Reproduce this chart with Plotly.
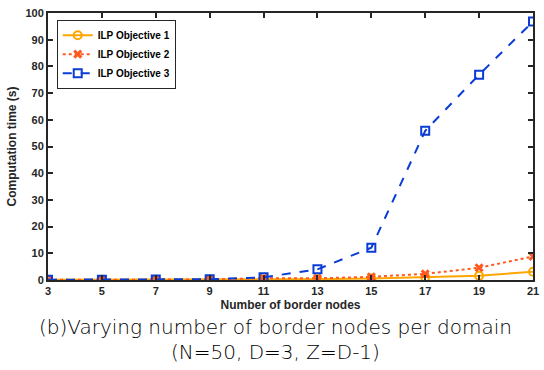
import plotly.graph_objects as go

border_nodes = [3, 5, 7, 9, 11, 13, 15, 17, 19, 21]
obj1 = [0.1, 0.1, 0.1, 0.1, 0.2, 0.3, 0.6, 1.0, 1.6, 3.1]
obj2 = [0.05, 0.1, 0.15, 0.2, 0.7, 0.6, 1.2, 2.3, 4.6, 8.8]
obj3 = [0.1, 0.1, 0.2, 0.3, 1.0, 4.0, 12.1, 55.9, 76.9, 96.8]
x_ticks = [3, 5, 7, 9, 11, 13, 15, 17, 19, 21]
y_ticks = [0, 10, 20, 30, 40, 50, 60, 70, 80, 90, 100]

fig = go.Figure()
fig.add_trace(go.Scatter(x=border_nodes, y=obj1, name="ILP Objective 1", mode="lines+markers",
                         line=dict(color="#FFA500", width=2, dash="solid"),
                         marker=dict(symbol="circle-open", size=8, color="#FFA500", line=dict(width=2))))
fig.add_trace(go.Scatter(x=border_nodes, y=obj2, name="ILP Objective 2", mode="lines+markers",
                         line=dict(color="#FF5A1F", width=2, dash="dot"),
                         marker=dict(symbol="x-thin-open", size=7, color="#FF5A1F", line=dict(width=3, color="#FF5A1F"))))
fig.add_trace(go.Scatter(x=border_nodes, y=obj3, name="ILP Objective 3", mode="lines+markers",
                         line=dict(color="#0A3CD6", width=2, dash="dash"),
                         marker=dict(symbol="square-open", size=8, color="#0A3CD6", line=dict(width=2))))

tick_font = dict(family="Arial, Liberation Sans", size=11, color="#262626", weight="bold")
axis_common = dict(showline=True, linecolor="#262626", linewidth=2, mirror="ticks",
                   ticks="inside", ticklen=5, tickwidth=2, tickcolor="#262626",
                   showgrid=False, zeroline=False, tickfont=tick_font)

fig.update_xaxes(range=[3, 21], tickvals=x_ticks,
                 title=dict(text="Number of border nodes", standoff=4,
                            font=dict(family="Arial, Liberation Sans", size=12, color="#262626", weight="bold")),
                 **axis_common)
fig.update_yaxes(range=[0, 100], tickvals=y_ticks,
                 title=dict(text="Computation time (s)", standoff=6,
                            font=dict(family="Arial, Liberation Sans", size=12, color="#262626", weight="bold")),
                 **axis_common)

fig.update_layout(
    width=544, height=370,
    margin=dict(l=48, r=5, t=13, b=90),
    plot_bgcolor="white", paper_bgcolor="white",
    legend=dict(x=0.018, y=0.975, xanchor="left", yanchor="top",
                bordercolor="#262626", borderwidth=1, bgcolor="white",
                font=dict(family="Arial, Liberation Sans", size=10, color="black", weight="bold"),
                tracegroupgap=0, itemwidth=30),
    annotations=[
        dict(text="(b)Varying number of border nodes per domain", xref="paper", yref="paper",
             x=0.47, y=-0.125, xanchor="center", yanchor="top", showarrow=False,
             font=dict(family="DejaVu Sans", size=20, color="#000000", weight=200)),
        dict(text="(N=50, D=3, Z=D-1)", xref="paper", yref="paper",
             x=0.47, y=-0.218, xanchor="center", yanchor="top", showarrow=False,
             font=dict(family="DejaVu Sans", size=20, color="#000000", weight=200)),
    ],
)

fig.write_html("out.html")
